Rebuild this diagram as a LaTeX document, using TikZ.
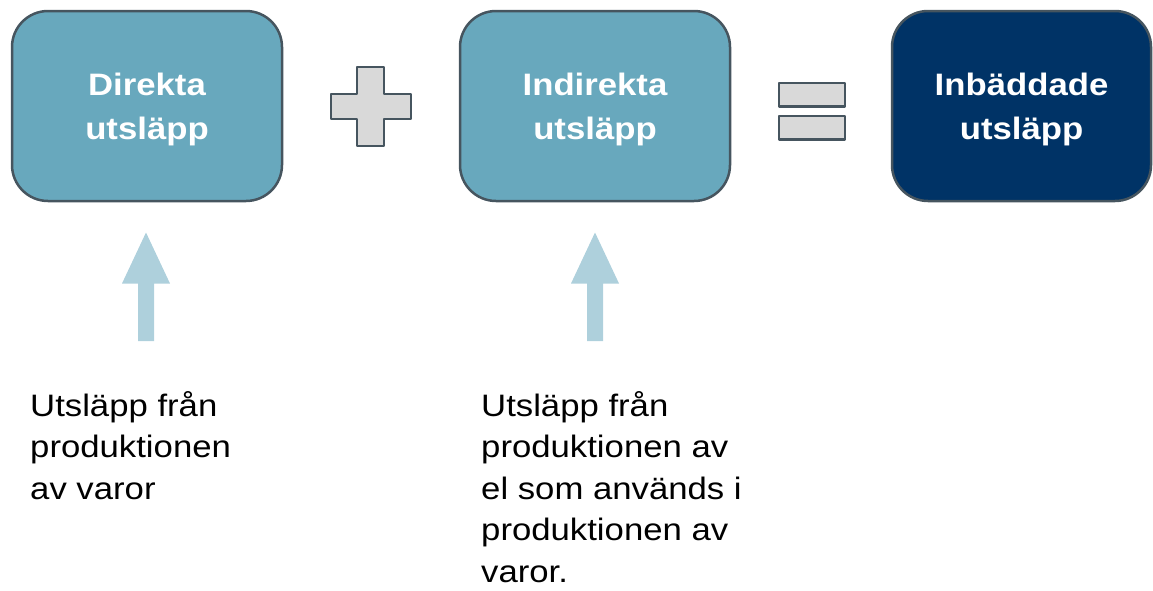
\documentclass[tikz,border=0pt]{standalone}
\usepackage{fontspec}
\setmainfont[FakeStretch=1.12]{Liberation Sans}
\definecolor{boxteal}{RGB}{104,168,189}
\definecolor{boxnavy}{RGB}{0,51,102}
\definecolor{rim}{RGB}{70,85,95}
\definecolor{signgray}{RGB}{217,217,217}
\definecolor{arrowblue}{RGB}{174,208,220}
\begin{document}
\begin{tikzpicture}[x=1pt,y=-1pt,line join=round,
	box/.style={draw=rim,line width=2.5pt,rounded corners=36pt,minimum height=190pt,inner sep=0pt,text depth=0pt,text=white,align=center,font=\fontsize{31}{44}\selectfont\bfseries},
	note/.style={anchor=north west,inner sep=0pt,align=left,font=\fontsize{31}{41.5}\selectfont},
	sign/.style={draw=rim,line width=2.5pt,fill=signgray}]
			\useasboundingbox (0,0) rectangle (1153,590);
			\node[box,fill=boxteal,minimum width=270pt] (direkta) at (147,106) {Direkta\\utsläpp};
			\node[box,fill=boxteal,minimum width=270pt] (indirekta) at (595,106) {Indirekta\\utsläpp};
			\node[box,fill=boxnavy,minimum width=259pt] (inbaddade) at (1021.5,106) {Inbäddade\\utsläpp};
			\draw[sign] (357,67) -- (384,67) -- (384,94) -- (411,94) -- (411,119) -- (384,119) -- (384,146) -- (357,146) -- (357,119) -- (331,119) -- (331,94) -- (357,94) -- cycle;
			\foreach \y in {83,116}{\draw[sign] (779,\y) rectangle (845,\y+23.5);}
			\foreach \x in {146,595}{\fill[arrowblue] (\x,232.5) -- (\x+24,283.5) -- (\x+8,283.5) -- (\x+8,341) -- (\x-8,341) -- (\x-8,283.5) -- (\x-24,283.5) -- cycle;}
			\node[note] (direktanot) at (30,391) {Utsläpp från\\produktionen\\av varor};
			\node[note] (indirektanot) at (481,391) {Utsläpp från\\produktionen av\\el som används i\\produktionen av\\varor.};
\end{tikzpicture}
\end{document}
